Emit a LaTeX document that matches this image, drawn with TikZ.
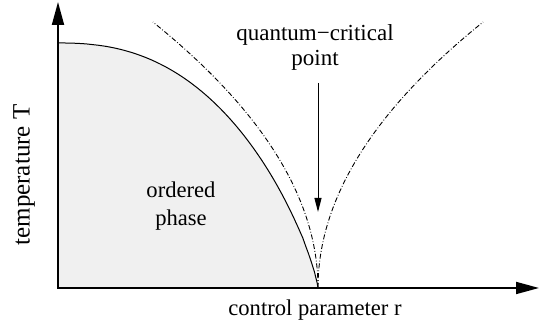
\documentclass[tikz,border=0pt]{standalone}
\usepackage{fontspec}
\setmainfont{Liberation Serif}
\usetikzlibrary{arrows.meta}

\begin{document}
\begin{tikzpicture}[x=0.5pt, y=0.5pt, >={Triangle[length=11.5pt, width=6pt]},
  axis/.style={line width=0.9pt, <->},
  crossover/.style={line width=0.45pt, dash pattern=on 2.5pt off 1pt on 0.4pt off 1pt},
  every node/.style={font=\fontsize{11.3}{14}\selectfont}]
\useasboundingbox (0,0) rectangle (542,325);
\coordinate (o) at (58,37);
\coordinate (tend) at (58,323);
\coordinate (rend) at (539,37);
\coordinate (qcp) at (318,37);
\coordinate (tc) at (58,282);
\coordinate (qctip) at (318,113);

% ordered phase
\draw[fill=black!6, line width=0.5pt] (o) -- (tc) -- plot[domain=0.002:0.998, samples=90] ({58+260*\x},{37+245*(1-\x^2.4)^0.8}) -- (qcp) -- cycle;

% crossover lines
\draw[crossover] plot[domain=0:12.85, samples=50] ({318-\x*\x},{37+20.7*\x});
\draw[crossover] plot[domain=0:12.85, samples=50] ({318+\x*\x},{37+20.7*\x});

\draw[axis] (tend) -- (o) -- (rend);

\node[align=center, font=\fontsize{11.5}{12.5}\selectfont] (qclabel) at (315,278) {quantum−critical\\point};
\draw[line width=0.5pt, -{Triangle[length=7pt, width=3.5pt]}, shorten <=3pt] (qclabel.south -| qcp) -- (qctip);

\node[align=center] (ordered) at (181,119) {ordered\\phase};
\node[rotate=90, font=\fontsize{12.5}{15}\selectfont] (tlabel) at (24,150) {temperature T};
\node (rlabel) at (315,15) {control parameter r};
\end{tikzpicture}
\end{document}
